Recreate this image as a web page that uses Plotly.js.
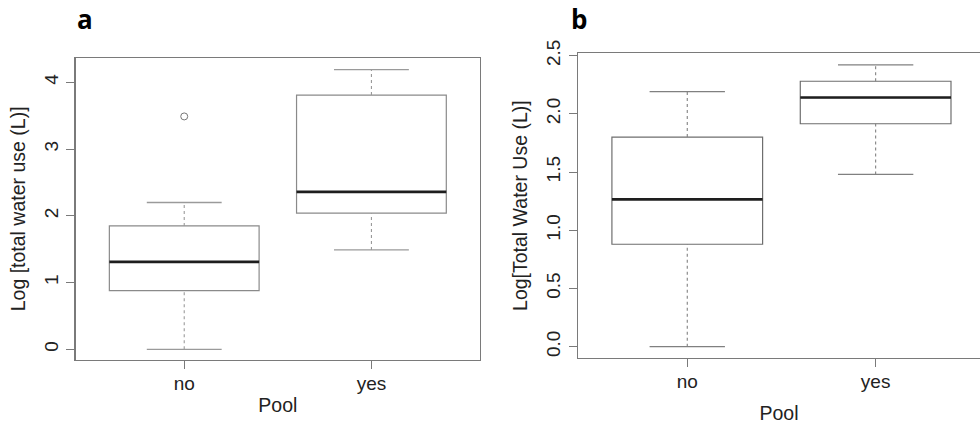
<!DOCTYPE html>
<html>
<head>
<meta charset="utf-8">
<script src="https://cdn.plot.ly/plotly-3.0.1.min.js"></script>
<style>html,body{margin:0;padding:0;background:#fff;}#chart{width:980px;height:429px;}</style>
</head>
<body>
<div id="chart"></div>
<script>
// Categories and tick labels
const categories = ['no', 'yes'];
const catPos = [0, 1];

// Panel a: Log [total water use (L)]
const aLower  = [0.00, 1.49];
const aQ1     = [0.88, 2.04];
const aMedian = [1.31, 2.36];
const aQ3     = [1.85, 3.81];
const aUpper  = [2.20, 4.19];
const aOutlierX = [0];
const aOutlierY = [3.49];

// Panel b: Log[Total Water Use (L)]
const bLower  = [0.00, 1.48];
const bQ1     = [0.88, 1.915];
const bMedian = [1.265, 2.14];
const bQ3     = [1.80, 2.28];
const bUpper  = [2.19, 2.42];

const BOXW = 0.8, CAPW = 0.4;
const axCol = '#7a7a7a';

function panelTraces(lower, q1, med, q3, upper, xa, ya, boxCol, capCol) {
  const t = [];
  t.push({
    type: 'box', x: catPos, q1: q1, median: med, q3: q3,
    lowerfence: q1, upperfence: q3, width: BOXW, whiskerwidth: 0,
    fillcolor: 'rgba(0,0,0,0)', line: {color: boxCol, width: 1.2},
    boxpoints: false, xaxis: xa, yaxis: ya, hoverinfo: 'skip', showlegend: false
  });
  catPos.forEach((p, i) => {
    t.push({type: 'scatter', mode: 'lines', x: [p - BOXW/2, p + BOXW/2], y: [med[i], med[i]],
      line: {color: '#1e1e1e', width: 2.6}, xaxis: xa, yaxis: ya, showlegend: false, hoverinfo: 'skip'});
    t.push({type: 'scatter', mode: 'lines', x: [p, p], y: [q3[i], upper[i]],
      line: {color: capCol, width: 1.1, dash: '3px,3px'}, xaxis: xa, yaxis: ya, showlegend: false, hoverinfo: 'skip'});
    t.push({type: 'scatter', mode: 'lines', x: [p, p], y: [lower[i], q1[i]],
      line: {color: capCol, width: 1.1, dash: '3px,3px'}, xaxis: xa, yaxis: ya, showlegend: false, hoverinfo: 'skip'});
    t.push({type: 'scatter', mode: 'lines', x: [p - CAPW/2, p + CAPW/2], y: [upper[i], upper[i]],
      line: {color: capCol, width: 1.3}, xaxis: xa, yaxis: ya, showlegend: false, hoverinfo: 'skip'});
    t.push({type: 'scatter', mode: 'lines', x: [p - CAPW/2, p + CAPW/2], y: [lower[i], lower[i]],
      line: {color: capCol, width: 1.3}, xaxis: xa, yaxis: ya, showlegend: false, hoverinfo: 'skip'});
  });
  return t;
}

const data = [
  ...panelTraces(aLower, aQ1, aMedian, aQ3, aUpper, 'x', 'y', '#8a8a8a', '#9a9a9a'),
  {type: 'scatter', mode: 'markers', x: aOutlierX, y: aOutlierY,
   marker: {symbol: 'circle-open', size: 7, color: '#777', line: {width: 1}},
   xaxis: 'x', yaxis: 'y', showlegend: false, hoverinfo: 'skip'},
  ...panelTraces(bLower, bQ1, bMedian, bQ3, bUpper, 'x2', 'y2', '#6e6e6e', '#808080')
];

const tickFont = {family: 'Liberation Sans, Arial, sans-serif', size: 19, color: '#222'};
const titleFont = {family: 'Liberation Sans, Arial, sans-serif', size: 19.5, color: '#222'};

function xAxis(domain, range, anchor, standoff) {
  return {
    domain: domain, range: range, anchor: anchor, tickmode: 'array',
    tickvals: catPos, ticktext: categories, ticks: 'outside', ticklen: 8, tickcolor: axCol,
    ticklabelstandoff: -2,
    showline: true, linecolor: axCol, linewidth: 1.2, mirror: true, showgrid: false, zeroline: false,
    tickfont: tickFont, title: {text: 'Pool', font: titleFont, standoff: standoff}, automargin: false
  };
}
function yAxis(domain, range, anchor, tickvals, ticktext, title, mirror) {
  return {
    domain: domain, range: range, anchor: anchor, tickmode: 'array', tickvals: tickvals, ticktext: ticktext,
    ticks: 'outside', ticklen: 8, tickcolor: axCol, tickangle: -90, ticklabelstandoff: 1,
    showline: true, linecolor: axCol, linewidth: 1.2, mirror: mirror, showgrid: false, zeroline: false,
    tickfont: tickFont, title: {text: title, font: titleFont, standoff: 10}, automargin: false
  };
}

const layout = {
  width: 980, height: 429,
  margin: {l: 0, r: 0, t: 0, b: 0},
  paper_bgcolor: '#fff', plot_bgcolor: '#fff',
  showlegend: false,
  xaxis: xAxis([0.0772, 0.4898], [-0.58, 1.58], 'y', 5),
  yaxis: yAxis([0.1608, 0.8655], [-0.16, 4.37], 'x', [0, 1, 2, 3, 4], ['0', '1', '2', '3', '4'],
               'Log [total water use (L)]', true),
  xaxis2: xAxis([0.5898, 1.0], [-0.58, 1.554], 'y2', 15),
  yaxis2: yAxis([0.1655, 0.8758], [-0.097, 2.52], 'x2', [0, 0.5, 1, 1.5, 2, 2.5],
                ['0.0', '0.5', '1.0', '1.5', '2.0', '2.5'], 'Log[Total Water Use (L)]', false),
  annotations: [
    {text: '<b>a</b>', xref: 'paper', yref: 'paper', x: 0.077, y: 0.955, xanchor: 'left', yanchor: 'middle',
     showarrow: false, font: {family: 'Open Sans, sans-serif', size: 26, color: '#000'}},
    {text: '<b>b</b>', xref: 'paper', yref: 'paper', x: 0.581, y: 0.955, xanchor: 'left', yanchor: 'middle',
     showarrow: false, font: {family: 'Open Sans, sans-serif', size: 26, color: '#000'}}
  ]
};

Plotly.newPlot('chart', data, layout, {displayModeBar: false, staticPlot: true});
</script>
</body>
</html>
